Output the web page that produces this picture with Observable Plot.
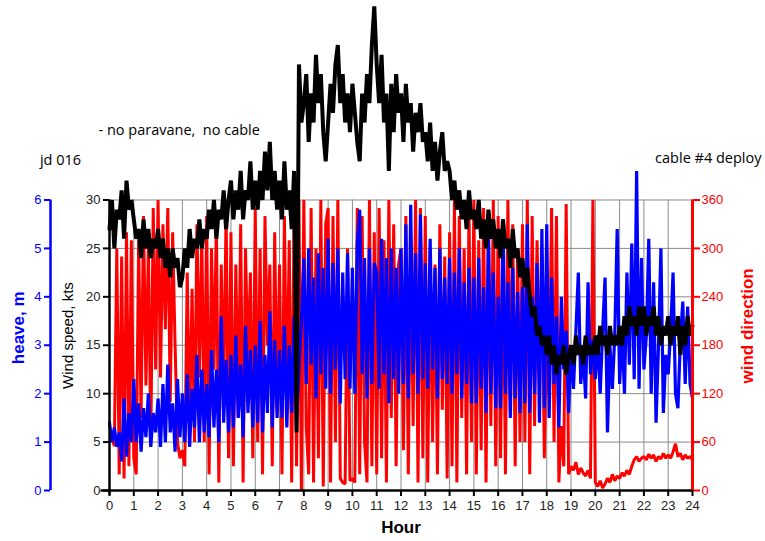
<!DOCTYPE html>
<html>
<head>
<meta charset="utf-8">
<script src="https://cdn.jsdelivr.net/npm/d3@7"></script>
<script src="https://cdn.jsdelivr.net/npm/@observablehq/plot@0.6"></script>
<style>
  html, body { margin: 0; padding: 0; background: #fff; }
  #chart { width: 765px; height: 541px; }
</style>
</head>
<body>
<div id="chart"></div>
<script>
// Samples every 0.1 hour from 0 to 24 (241 samples)
const sampleStep = 0.1;

// Wind speed, kts
const windSpeed = [
  27,30,25,29,28,31,26,32,29,30,
  28,26,27,24,28,25,27,24,26,25,
  27,24,26,23,25,22,25,23,24,21,
  22,25,23,27,24,26,25,28,25,27,
  26,29,27,30,26,29,28,31,27,30,
  32,28,31,29,33,28,31,30,34,29,
  32,29,33,30,35,31,36,30,33,29,
  32,28,34,29,31,27,33,6,44,38,
  40,43,36,41,38,45,40,43,37,34,
  38,42,39,44,46,40,43,38,41,37,
  42,39,36,34,41,38,43,40,46,50,
  44,40,45,38,41,33,42,37,43,39,
  41,36,42,38,40,35,39,37,40,36,
  37,34,38,33,36,32,35,37,33,34,
  33,30,32,29,31,28,30,27,31,28,
  29,27,30,26,28,25,29,26,28,25,
  27,24,28,25,26,23,27,24,25,22,
  24,21,23,20,18,19,16,17,15,16,
  14,16,13,15,12,14,13,15,12,14,
  15,13,16,14,15,13,16,14,15,14,
  16,14,17,15,16,14,17,15,16,15,
  17,15,18,16,19,17,18,16,19,17,
  19,16,18,17,19,16,18,15,17,16,
  18,15,17,16,18,14,17,15,18,16,
  17
];

// Heave, m
const heave = [
  1.4,1.0,1.3,0.9,1.2,0.6,1.9,0.7,1.6,1.0,
  2.3,1.0,1.8,0.8,1.7,1.1,2.0,0.9,1.6,1.2,
  1.9,0.9,2.2,1.0,2.6,1.2,1.8,0.8,2.3,1.1,
  2.0,1.0,2.4,0.9,2.1,1.3,2.8,1.0,2.5,1.2,
  2.2,1.1,2.9,1.3,2.5,1.0,3.6,1.4,2.7,1.2,
  2.8,1.3,3.2,1.5,2.6,1.1,3.4,1.6,2.9,1.3,
  3.0,1.4,3.5,1.2,2.8,1.6,3.7,1.3,3.1,1.5,
  2.9,1.5,3.4,1.3,3.0,1.6,3.6,1.4,2.5,3.5,
  4.8,2.2,5.0,2.6,4.4,1.9,4.9,2.4,4.6,2.1,
  5.2,2.0,4.7,2.5,5.0,1.8,4.5,2.3,4.9,2.1,
  4.6,2.0,5.1,5.8,2.4,4.8,1.9,5.0,2.2,4.7,
  4.5,2.1,5.2,2.4,4.8,1.8,5.0,2.3,4.6,2.0,
  5.0,2.2,5.5,1.9,5.9,2.4,4.9,2.0,5.7,2.3,
  4.7,2.1,5.2,2.5,4.6,1.9,5.0,2.3,4.4,2.2,
  4.8,2.0,4.5,2.4,5.0,1.9,4.3,2.2,4.6,1.8,
  4.4,1.8,4.8,2.1,4.2,1.6,5.3,2.0,4.5,1.7,
  4.0,1.7,5.6,2.0,4.3,1.5,4.6,1.9,4.1,1.6,
  4.2,1.8,5.5,1.6,4.0,2.0,4.7,1.4,5.4,1.7,
  5.5,1.5,4.4,2.2,3.6,1.3,4.0,2.5,3.3,1.6,
  3.0,2.1,3.3,4.5,2.2,2.9,1.9,4.3,2.4,3.1,
  2.3,3.2,2.0,3.3,4.4,1.2,3.0,2.1,3.2,5.4,
  2.2,3.3,2.0,4.5,2.6,5.1,2.3,6.6,2.1,4.8,
  2.5,3.2,5.2,2.0,4.3,1.4,3.0,5.0,1.6,2.8,
  2.4,3.3,4.5,2.0,1.7,3.1,3.9,2.2,3.8,2.2,
  1.9
];

// Wind direction, degrees
const windDir = [
  60,65,55,300,20,290,15,320,30,310,
  40,20,310,90,340,130,300,60,350,150,
  360,140,330,200,350,110,320,180,60,40,
  50,30,270,80,250,60,330,140,320,60,
  340,20,300,150,330,10,280,120,345,40,
  320,30,280,90,330,10,300,150,270,40,
  350,60,300,20,340,180,280,30,320,100,
  280,20,340,100,310,10,350,30,360,0,
  360,80,20,350,10,300,40,360,5,330,
  350,10,340,60,360,15,10,8,300,12,
  15,10,350,20,340,60,10,360,30,320,
  20,350,40,310,10,360,90,330,30,280,
  300,50,340,20,310,80,360,10,350,40,
  340,10,300,60,280,20,330,100,290,15,
  320,30,360,10,340,90,300,20,350,60,
  360,20,310,50,350,10,330,80,360,30,
  340,40,320,20,360,100,330,30,300,60,
  330,60,360,20,340,80,310,150,290,40,
  200,120,350,60,340,10,80,30,355,20,
  30,25,35,20,28,22,18,25,15,360,
  10,5,12,3,8,15,10,20,12,18,
  15,22,18,25,20,30,38,42,36,40,
  42,38,45,40,44,36,42,39,46,40,
  44,40,48,58,42,46,38,44,40,42,
  38
];

// Tick labels
const hourTicks = [0,1,2,3,4,5,6,7,8,9,10,11,12,13,14,15,16,17,18,19,20,21,22,23,24];
const speedTicks = [0,5,10,15,20,25,30];
const heaveTicks = [0,1,2,3,4,5,6];
const dirTicks = [0,60,120,180,240,300,360];

// scale factors to the shared (kts) axis
const heaveToKts = 5;   // 6 m  <-> 30 kts
const dirToKts = 1/12;  // 360 deg <-> 30 kts

const speedData = windSpeed.map((v, i) => ({hour: i * sampleStep, v}));
const heaveData = heave.map((v, i) => ({hour: i * sampleStep, v: v * heaveToKts}));
const dirData = windDir.map((v, i) => ({hour: i * sampleStep, v: v * dirToKts}));

const chart = Plot.plot({
  width: 765,
  height: 541,
  marginLeft: 109,
  marginRight: 73,
  marginTop: 0,
  marginBottom: 51,
  style: {fontFamily: "'Liberation Sans', Arial, sans-serif", fontSize: "13px", background: "white"},
  x: {domain: [0, 24]},
  y: {domain: [0, 50.6]},
  marks: [
    // grid
    Plot.ruleX(hourTicks, {y1: 0, y2: 30, stroke: "#8a8a8a", strokeWidth: 1}),
    Plot.ruleY(speedTicks, {x1: 0, x2: 24, stroke: "#8a8a8a", strokeWidth: 1}),
    // series
    Plot.line(dirData, {x: "hour", y: "v", stroke: "#ff0000", strokeWidth: 3, strokeLinejoin: "miter"}),
    Plot.line(heaveData, {x: "hour", y: "v", stroke: "#0000ff", strokeWidth: 3.2, strokeLinejoin: "miter"}),
    Plot.line(speedData, {x: "hour", y: "v", stroke: "#000000", strokeWidth: 4, strokeLinejoin: "miter"}),
    // wind speed axis (black, left)
    Plot.axisY(speedTicks, {anchor: "left", tickSize: 6, tickPadding: 3, strokeWidth: 2, label: null, fill: "#222"}),
    Plot.ruleX([0], {y1: -0.5, y2: 30, stroke: "black", strokeWidth: 2.5}),
    // heave axis (blue, far left)
    Plot.axisY(heaveTicks.map(d => d * heaveToKts), {anchor: "left", dx: -59, tickSize: 6, tickPadding: 3, strokeWidth: 2, stroke: "#0000ff", fill: "#0000ff", tickFormat: d => d / heaveToKts, label: null}),
    Plot.ruleX([0], {y1: 0, y2: 30, dx: -59, stroke: "#0000ff", strokeWidth: 2.5}),
    // wind direction axis (red, right)
    Plot.axisY(dirTicks.map(d => d * dirToKts), {anchor: "right", tickSize: 7, tickPadding: 2, strokeWidth: 2, stroke: "#ff0000", fill: "#ff0000", tickFormat: d => Math.round(d / dirToKts), label: null}),
    Plot.ruleX([24], {y1: 0, y2: 30, stroke: "#ff0000", strokeWidth: 3}),
    // hour axis
    Plot.axisX(hourTicks, {anchor: "bottom", tickSize: 6, tickPadding: 4, strokeWidth: 2, label: null, fill: "#222"}),
    Plot.ruleY([0], {x1: -0.35, x2: 24, stroke: "black", strokeWidth: 2.5}),
    // axis titles
    Plot.text(["Hour"], {x: () => 12, y: () => 0, dy: 37, fontWeight: "bold", fontSize: 17, fill: "black"}),
    Plot.text(["Wind speed, kts"], {x: () => 0, y: () => 16, dx: -41, rotate: -90, fontSize: 15, fill: "black"}),
    Plot.text(["heave, m"], {x: () => 0, y: () => 16.8, dx: -91, rotate: -90, fontSize: 17, fontWeight: "bold", fill: "#0000ff"}),
    Plot.text(["wind direction"], {x: () => 24, y: () => 17, dx: 55, rotate: -90, fontSize: 17, fontWeight: "bold", fill: "#ff0000"}),
    // annotations
    Plot.text(["jd 016"], {x: () => 0, y: () => 34.1, dx: -49, fontSize: 14.5, fontFamily: "'Open Sans', sans-serif", fill: "black"}),
    Plot.text(["- no paravane,  no cable"], {x: () => 0, y: () => 37.2, dx: -11, textAnchor: "start", fontSize: 14.5, fontFamily: "'Open Sans', sans-serif", fill: "black"}),
    Plot.text(["cable #4 deploy"], {x: () => 24, y: () => 34.3, dx: 69, textAnchor: "end", fontSize: 14.5, fontFamily: "'Open Sans', sans-serif", fill: "black"})
  ]
});
document.getElementById("chart").appendChild(chart);
</script>
</body>
</html>
